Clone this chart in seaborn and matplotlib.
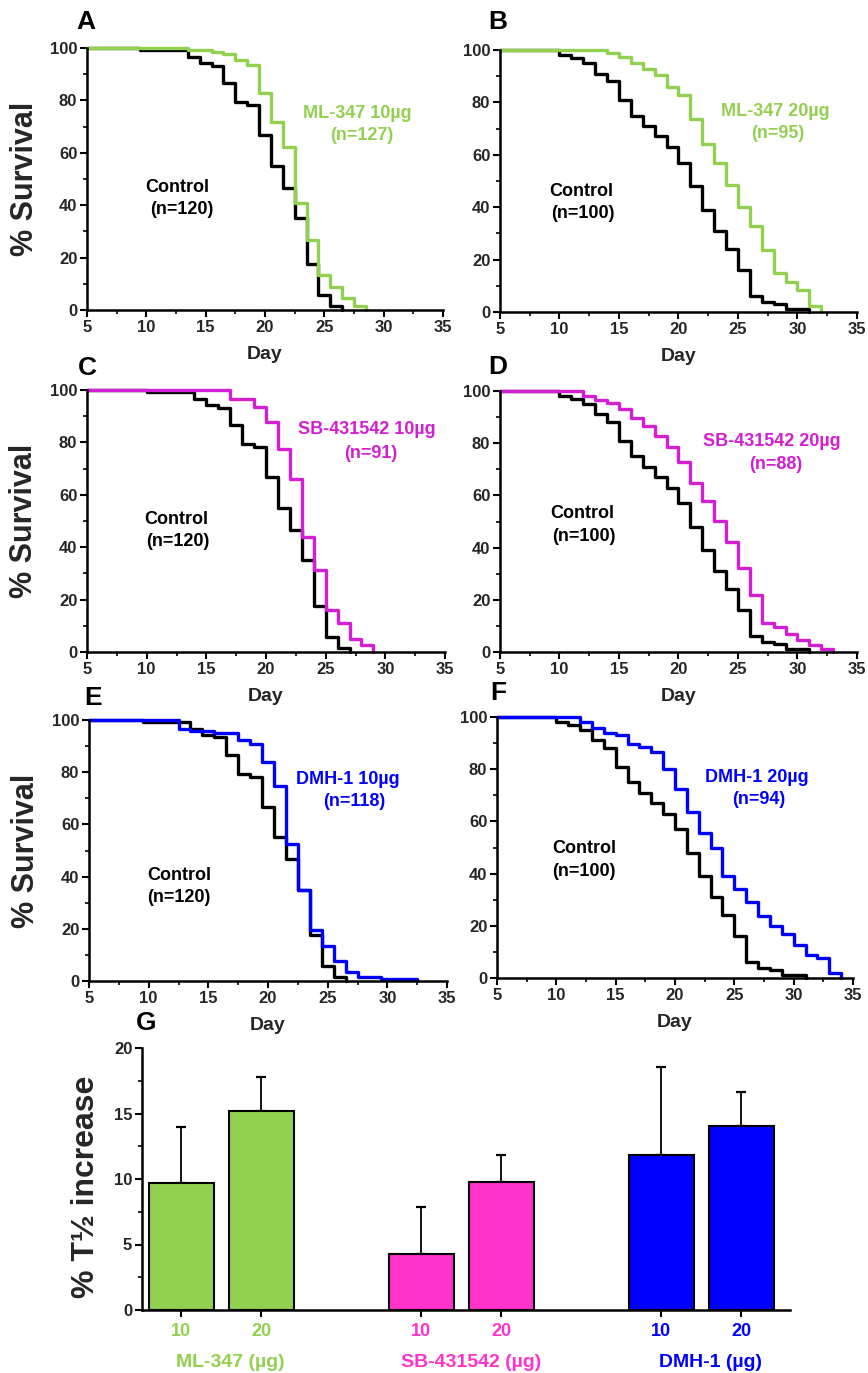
import numpy as np
import pandas as pd
import matplotlib
matplotlib.use("Agg")
import matplotlib.pyplot as plt
import matplotlib.transforms as mtransforms
from matplotlib.ticker import MultipleLocator
import seaborn as sns

# ---------------- data ----------------
# Control cohorts (day of death step, % survival after the step)
ctrl120_days = [10, 14, 15, 16, 17, 18, 19, 20, 21, 22, 23, 24, 25, 26, 27]
ctrl120_surv = [99.2, 96.7, 94.2, 93.3, 86.7, 79.2, 78.3, 66.7, 55.0, 46.7, 35.0, 17.5, 5.8, 1.7, 0]

ctrl100_days = [10, 11, 12, 13, 14, 15, 16, 17, 18, 19, 20, 21, 22, 23, 24, 25, 26, 27, 28, 29, 31]
ctrl100_surv = [98, 97, 95, 91, 88, 81, 75, 71, 67, 63, 57, 48, 39, 31, 24, 16, 6, 4, 3, 1, 0]

ml347_10_days = [14, 16, 17, 18, 19, 20, 21, 22, 23, 24, 25, 26, 27, 28, 29]
ml347_10_surv = [99.2, 98.4, 97.6, 95.3, 93.7, 82.7, 71.7, 62.2, 41.0, 26.8, 13.4, 8.7, 4.7, 1.6, 0]

ml347_20_days = [14, 15, 16, 17, 18, 19, 20, 21, 22, 23, 24, 25, 26, 27, 28, 29, 30, 31, 32]
ml347_20_surv = [99.0, 97.2, 94.9, 92.8, 90.5, 86.0, 82.8, 73.7, 64.2, 56.8, 48.5, 40.0, 32.7, 23.5,
                 14.9, 11.3, 8.5, 2.4, 0]

sb_10_days = [17, 19, 20, 21, 22, 23, 24, 25, 26, 27, 28, 29]
sb_10_surv = [96.7, 93.4, 87.9, 77.3, 66.2, 43.9, 31.2, 15.9, 11.2, 5.1, 2.5, 0]

sb_20_days = [12, 13, 14, 15, 16, 17, 18, 19, 20, 21, 22, 23, 24, 25, 26, 27, 28, 29, 30, 31, 32, 33]
sb_20_surv = [98.1, 96.7, 95.5, 93.2, 89.8, 86.5, 82.7, 78.6, 72.9, 64.8, 58.0, 50.2, 42.3, 32.1,
              21.9, 11.3, 9.6, 7.0, 4.7, 2.8, 1.3, 0]

dmh_10_days = [13, 14, 16, 18, 19, 20, 21, 22, 23, 24, 25, 26, 27, 28, 30, 33]
dmh_10_surv = [96.6, 95.8, 94.9, 92.4, 90.7, 83.9, 74.6, 52.5, 34.7, 19.5, 13.6, 7.6, 3.4, 1.7, 0.8, 0]

dmh_20_days = [12, 13, 14, 15, 16, 17, 18, 19, 20, 21, 22, 23, 24, 25, 26, 27, 28, 29, 30, 31, 32, 33, 34]
dmh_20_surv = [98.1, 95.9, 94.0, 93.0, 89.6, 88.5, 86.4, 80.0, 72.4, 63.7, 55.4, 50.0, 39.2, 34.1,
               29.0, 23.6, 20.1, 16.9, 12.7, 8.7, 7.5, 1.9, 0]

# Panel G
bar_groups = ["ML-347", "ML-347", "SB-431542", "SB-431542", "DMH-1", "DMH-1"]
bar_doses = ["10", "20", "10", "20", "10", "20"]
t_half_increase = [9.73, 15.16, 4.31, 9.78, 11.80, 14.04]
t_half_sem = [4.21, 2.60, 3.59, 2.07, 6.75, 2.60]
group_names = ["ML-347", "SB-431542", "DMH-1"]

# ---------------- style ----------------
GREEN = "#92D050"
MAGENTA = "#D41ED4"
PINK = "#FF33CC"
BLUE = "#0000FF"

sns.set_theme(style="ticks")
plt.rcParams["font.family"] = ["Liberation Sans", "DejaVu Sans"]
plt.rcParams["font.weight"] = "bold"
plt.rcParams["axes.labelweight"] = "bold"

W, H = 868, 1373
fig = plt.figure(figsize=(W / 100, H / 100), dpi=100)


def rect(l, r, top, bottom):
    return [l / W, 1 - bottom / H, (r - l) / W, (bottom - top) / H]


def ftext(x, y, s, **kw):
    fig.text(x / W, 1 - y / H, s, ha="center", va="center", **kw)


def style_axes(ax):
    sns.despine(ax=ax)
    for sp in ("left", "bottom"):
        ax.spines[sp].set_linewidth(1.8)
        ax.spines[sp].set_color("black")
    ax.tick_params(which="major", direction="out", length=5, width=1.5, color="black",
                   labelsize=12, pad=2)
    ax.tick_params(which="minor", direction="out", length=3, width=1.2, color="black")
    for lab in ax.get_xticklabels() + ax.get_yticklabels():
        lab.set_fontweight("bold")


def curve(ax, days, surv, color, shift):
    df = pd.DataFrame({"day": [5.0] + [d + shift for d in days],
                       "surv": [100.0] + list(surv)})
    sns.lineplot(data=df, x="day", y="surv", ax=ax, color=color, lw=2.4,
                 drawstyle="steps-post", estimator=None, sort=False, clip_on=False)


def surv_panel(r, ctrl, trt, color, shift, ylabel):
    ax = fig.add_axes(r)
    curve(ax, ctrl[0], ctrl[1], "black", shift)
    curve(ax, trt[0], trt[1], color, shift)
    ax.set_xlim(5, 35)
    ax.set_ylim(0, 100)
    ax.xaxis.set_major_locator(MultipleLocator(5))
    ax.xaxis.set_minor_locator(MultipleLocator(2.5))
    ax.yaxis.set_major_locator(MultipleLocator(20))
    ax.yaxis.set_minor_locator(MultipleLocator(10))
    ax.set_xlabel("Day", fontsize=14, fontweight="bold")
    ax.xaxis.label.set_va("center")
    ax.xaxis.set_label_coords(0.5, -0.17)
    if ylabel:
        ax.set_ylabel("% Survival", fontsize=22, fontweight="bold")
        ax.yaxis.label.set_va("center")
        ax.yaxis.set_label_coords(-0.175, 0.5)
    else:
        ax.set_ylabel("")
    style_axes(ax)
    return ax


surv_panel(rect(87, 443, 48, 310), (ctrl120_days, ctrl120_surv), (ml347_10_days, ml347_10_surv), GREEN, -0.5, True)
surv_panel(rect(500, 857, 50, 312), (ctrl100_days, ctrl100_surv), (ml347_20_days, ml347_20_surv), GREEN, 0.0, False)
surv_panel(rect(87, 445, 390, 652), (ctrl120_days, ctrl120_surv), (sb_10_days, sb_10_surv), MAGENTA, 0.0, True)
surv_panel(rect(500, 857, 391, 652), (ctrl100_days, ctrl100_surv), (sb_20_days, sb_20_surv), MAGENTA, 0.0, False)
surv_panel(rect(89, 447, 720, 981), (ctrl120_days, ctrl120_surv), (dmh_10_days, dmh_10_surv), BLUE, -0.5, True)
surv_panel(rect(497, 853, 717, 978), (ctrl100_days, ctrl100_surv), (dmh_20_days, dmh_20_surv), BLUE, 0.0, False)

# annotations
ann = dict(fontsize=13, fontweight="bold")
ftext(357, 113, "ML-347 10µg", color=GREEN, **ann)
ftext(362, 135, "(n=127)", color=GREEN, **ann)
ftext(177, 188, "Control", color="black", **ann)
ftext(182, 210, "(n=120)", color="black", **ann)

ftext(775, 111, "ML-347 20µg", color=GREEN, **ann)
ftext(778, 133, "(n=95)", color=GREEN, **ann)
ftext(581, 191, "Control", color="black", **ann)
ftext(583, 213, "(n=100)", color="black", **ann)

ftext(367, 429, "SB-431542 10µg", color=MAGENTA, **ann)
ftext(371, 453, "(n=91)", color=MAGENTA, **ann)
ftext(176, 519, "Control", color="black", **ann)
ftext(178, 541, "(n=120)", color="black", **ann)

ftext(772, 442, "SB-431542 20µg", color=MAGENTA, **ann)
ftext(776, 464, "(n=88)", color=MAGENTA, **ann)
ftext(582, 513, "Control", color="black", **ann)
ftext(584, 537, "(n=100)", color="black", **ann)

ftext(348, 779, "DMH-1 10µg", color=BLUE, **ann)
ftext(354, 802, "(n=118)", color=BLUE, **ann)
ftext(179, 875, "Control", color="black", **ann)
ftext(179, 898, "(n=120)", color="black", **ann)

ftext(757, 777, "DMH-1 20µg", color=BLUE, **ann)
ftext(759, 800, "(n=94)", color=BLUE, **ann)
ftext(584, 849, "Control", color="black", **ann)
ftext(584, 872, "(n=100)", color="black", **ann)

# panel letters
let = dict(fontsize=19, fontweight="bold", color="black")
ftext(86, 22, "A", **let)
ftext(498, 22, "B", **let)
ftext(87, 368, "C", **let)
ftext(498, 367, "D", **let)
ftext(93, 698, "E", **let)
ftext(498, 693, "F", **let)
ftext(146, 1023, "G", **let)

# ---------------- panel G ----------------
axg = fig.add_axes(rect(142, 790, 1048, 1310))
bar_pos = [group_names.index(g) * 3 + bar_doses[:2].index(d) for g, d in zip(bar_groups, bar_doses)]
bar_palette = {"ML-347": GREEN, "SB-431542": PINK, "DMH-1": BLUE}
df_bar = pd.DataFrame({"pos": bar_pos, "val": t_half_increase, "group": bar_groups})
sns.barplot(data=df_bar, x="pos", y="val", hue="group", palette=bar_palette, native_scale=True,
            width=0.81, dodge=False, saturation=1, edgecolor="black", linewidth=1.5,
            errorbar=None, legend=False, ax=axg, zorder=3)
axg.errorbar(bar_pos, t_half_increase, yerr=[np.zeros(len(t_half_sem)), t_half_sem], fmt="none",
             ecolor="black", elinewidth=1.3, capsize=3.5, capthick=1.6, zorder=2)
axg.set_xlim(-0.49, 7.61)
axg.set_ylim(0, 20)
axg.yaxis.set_major_locator(MultipleLocator(5))
axg.yaxis.set_minor_locator(MultipleLocator(2.5))
axg.set_xticks(bar_pos)
axg.set_xticklabels(bar_doses)
axg.set_xlabel("")
axg.set_ylabel("% T½ increase", fontsize=23, fontweight="bold")
axg.yaxis.label.set_va("center")
axg.yaxis.set_label_coords(-0.087, 0.47)
style_axes(axg)
axg.tick_params(axis="x", labelsize=13, pad=4)
for lab, g in zip(axg.get_xticklabels(), bar_groups):
    lab.set_color(bar_palette[g])
    lab.set_fontweight("bold")

trans = mtransforms.blended_transform_factory(axg.transData, axg.transAxes)
for g in group_names:
    cx = np.mean([p for p, gg in zip(bar_pos, bar_groups) if gg == g]) + 0.12
    axg.text(cx, -0.2, f"{g} (µg)", transform=trans, ha="center", va="center",
             fontsize=14, fontweight="bold", color=bar_palette[g])

fig.savefig("out.png", dpi=100)
